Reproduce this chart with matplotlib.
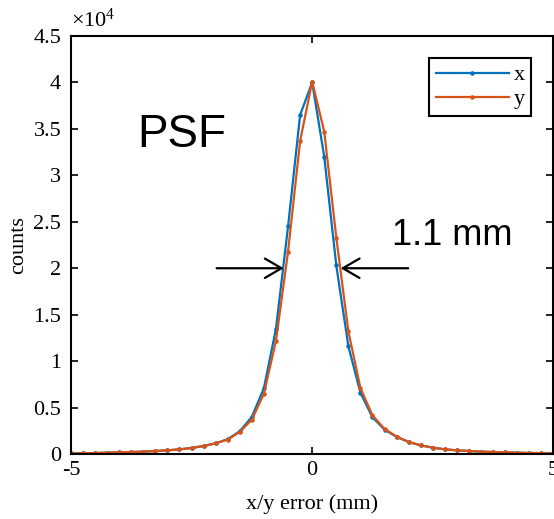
import numpy as np
import matplotlib
matplotlib.use('Agg')
import matplotlib.pyplot as plt
from matplotlib.ticker import FuncFormatter

plt.rcParams.update({'font.family': 'Liberation Serif', 'font.size': 16,
                     'mathtext.fontset': 'custom', 'mathtext.rm': 'Liberation Serif',
                     'mathtext.it': 'Liberation Serif:italic'})

# x/y error bins (mm)
err = [-5.0, -4.75, -4.5, -4.25, -4.0, -3.75, -3.5, -3.25, -3.0, -2.75, -2.5,
       -2.25, -2.0, -1.75, -1.5, -1.25, -1.0, -0.75, -0.5, -0.25, 0.0,
       0.25, 0.5, 0.75, 1.0, 1.25, 1.5, 1.75, 2.0, 2.25, 2.5,
       2.75, 3.0, 3.25, 3.5, 3.75, 4.0, 4.25, 4.5, 4.75, 5.0]

counts_x = [60, 75, 105, 140, 180, 215, 255, 320, 395, 500, 650,
            860, 1150, 1600, 2450, 4000, 7100, 13500, 24500, 36500, 40000,
            32000, 20300, 11600, 6600, 3950, 2620, 1850, 1290, 930, 680,
            500, 395, 320, 250, 215, 180, 145, 110, 100, 70]

counts_y = [65, 80, 110, 145, 180, 220, 260, 330, 400, 510, 650,
            870, 1150, 1560, 2380, 3700, 6500, 12200, 21800, 33700, 40100,
            34700, 23300, 13200, 7100, 4150, 2700, 1880, 1300, 940, 690,
            510, 400, 325, 255, 220, 180, 145, 110, 100, 70]

y_ticks = [0, 5000, 10000, 15000, 20000, 25000, 30000, 35000, 40000, 45000]
x_ticks = [-5, 0, 5]

blue = '#0072BD'
orange = '#D95319'

fig = plt.figure(figsize=(5.54, 5.19), dpi=100)
ax = fig.add_axes([0.128, 0.1252, 0.871, 0.8054])

ax.plot(err, counts_x, '.-', color=blue, lw=1.6, ms=4.5, label='x')
ax.plot(err, counts_y, '.-', color=orange, lw=1.6, ms=4.5, label='y')

ax.set_xlim(-5, 5)
ax.set_ylim(0, 45000)
ax.set_xticks(x_ticks)
ax.set_yticks(y_ticks)
ax.yaxis.set_major_formatter(FuncFormatter(lambda v, p: '%g' % (v / 1e4)))
ax.xaxis.set_major_formatter(FuncFormatter(lambda v, p: '%g' % v))
ax.tick_params(direction='in', length=5, width=1.2, top=True, right=True, pad=7)
ax.tick_params(axis='x', pad=5)
for s in ax.spines.values():
    s.set_linewidth(1.5)

ax.text(0.0, 1.01, r'$\times10^4$', transform=ax.transAxes, ha='left', va='bottom', fontsize=16)

ax.set_xlabel('x/y error (mm)', labelpad=10)
ax.set_ylabel('counts', labelpad=4)

# FWHM arrows and labels
ax.annotate('', xy=(-0.59, 20000), xytext=(-1.98, 20000),
            arrowprops=dict(arrowstyle='->, head_length=0.6, head_width=0.35',
                            lw=1.6, color='k', mutation_scale=20, shrinkA=0, shrinkB=0))
ax.annotate('', xy=(0.59, 20000), xytext=(1.99, 20000),
            arrowprops=dict(arrowstyle='->, head_length=0.6, head_width=0.35',
                            lw=1.6, color='k', mutation_scale=20, shrinkA=0, shrinkB=0))
ax.text(1.66, 22500, '1.1 mm', family='Liberation Sans', fontsize=26, ha='left', va='baseline')
ax.text(-3.62, 33100, 'PSF', family='Liberation Sans', fontsize=33, ha='left', va='baseline')

leg = ax.legend(loc='upper right', bbox_to_anchor=(0.954, 0.947), numpoints=1,
                handlelength=3.3, fontsize=16, fancybox=False, framealpha=1,
                edgecolor='k', borderpad=0.3, labelspacing=0.15, handletextpad=0.2,
                borderaxespad=0)
leg.get_frame().set_linewidth(1.5)

fig.savefig('out.png', dpi=100)
